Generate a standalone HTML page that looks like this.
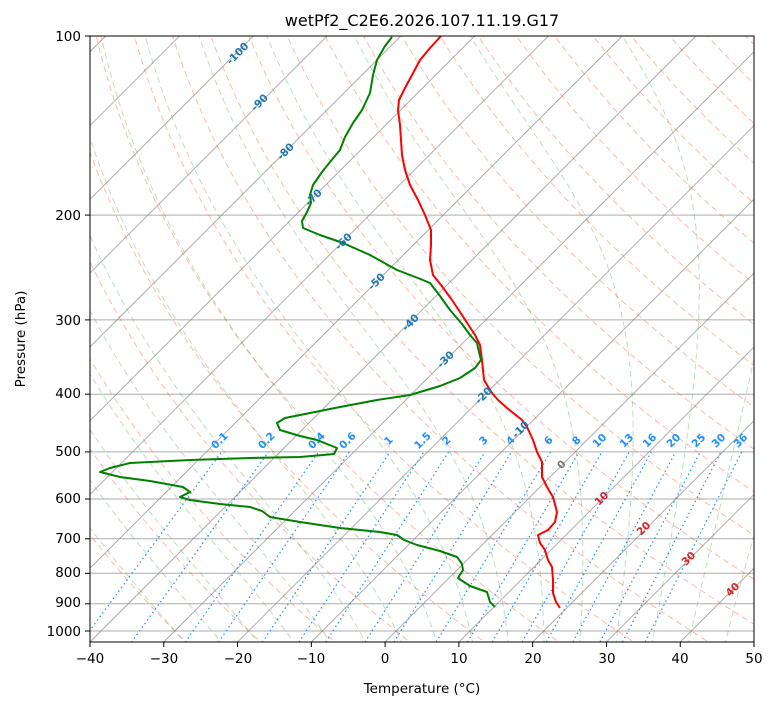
<!DOCTYPE html>
<html><head><meta charset="utf-8">
<style>
body{margin:0;background:#fff;}
svg{display:block;font-family:"DejaVu Sans","Liberation Sans",sans-serif;}
.tk{font-size:13.5px;fill:#000;}
.ml{font-size:10.5px;font-weight:bold;fill:#1e90ff;}
.il{font-size:10.5px;font-weight:bold;fill:#1f77b4;}
.rl{font-size:10.5px;font-weight:bold;fill:#d62728;}
</style></head><body>
<svg id="s" width="775" height="708" viewBox="0 0 775 708" xmlns="http://www.w3.org/2000/svg">
<defs><clipPath id="c"><rect x="90" y="36" width="664" height="606"/></clipPath></defs>
<rect width="775" height="708" fill="#fff"/>
<g id="bg" clip-path="url(#c)"></g>
<g clip-path="url(#c)" fill="none" stroke-width="2" stroke-linejoin="round">
<polyline stroke="#ff0000" points="441,36 430,48 420,60 412,75 405,88 399,100 398,110 400,125 401,140 402,155 405,170 410,185 418,200 425,215 431,230 431,245 430,260 433,275 441,285 452,300 462,315 475,335 480,345 482,360 484,380 492,393 498,400 507,408 522,420 527,427 533,440 537,452 542,462 542,477 547,487 553,497 557,512 555,522 548,530 538,535 540,543 545,550 548,560 552,567 553,580 553,593 556,602 560,608"/>
<polyline stroke="#008000" points="392,37 385,46 377,60 373,75 370,93 362,110 353,123 345,137 340,150 330,162 322,172 313,185 310,195 311,203 307,212 302,221 303,228 320,235 343,243 370,255 397,270 418,278 430,283 440,296 450,310 462,324 470,335 477,343 479,352 481,360 475,368 460,378 440,386 410,395 377,400 340,407 305,414 285,418 277,423 280,430 300,436 317,440 337,448 334,454 323,455 300,457 250,458 190,460 130,463 110,468 100,472 120,477 150,481 183,487 190,492 180,497 190,500 220,504 250,507 262,511 270,517 300,522 340,528 380,532 397,535 404,540 417,545 440,551 457,557 462,564 463,570 458,578 470,586 487,592 490,602 495,607"/>
</g>
<rect x="90" y="36" width="664" height="606" fill="none" stroke="#000" stroke-width="1"/>
<g id="tk"></g>
<text x="422" y="26" text-anchor="middle" style="font-size:16px">wetPf2_C2E6.2026.107.11.19.G17</text>
<text x="422" y="693" text-anchor="middle" class="tk">Temperature (°C)</text>
<text transform="translate(25,339) rotate(-90)" text-anchor="middle" class="tk">Pressure (hPa)</text>
<g class="tk" text-anchor="end">
<text x="81" y="41">100</text><text x="81" y="220">200</text><text x="81" y="325">300</text><text x="81" y="398">400</text><text x="81" y="456">500</text><text x="81" y="503">600</text><text x="81" y="543">700</text><text x="81" y="577">800</text><text x="81" y="607">900</text><text x="81" y="636">1000</text>
</g>
<g class="tk" text-anchor="middle">
<text x="90" y="663">−40</text><text x="164" y="663">−30</text><text x="238" y="663">−20</text><text x="311" y="663">−10</text><text x="385" y="663">0</text><text x="459" y="663">10</text><text x="533" y="663">20</text><text x="607" y="663">30</text><text x="680" y="663">40</text><text x="754" y="663">50</text>
</g>
<g class="ml" text-anchor="middle">
<text transform="translate(222,443) rotate(-45)">0.1</text><text transform="translate(269,443) rotate(-45)">0.2</text><text transform="translate(319,443) rotate(-45)">0.4</text><text transform="translate(350,443) rotate(-45)">0.6</text><text transform="translate(391,443) rotate(-45)">1</text><text transform="translate(425,443) rotate(-45)">1.5</text><text transform="translate(449,443) rotate(-45)">2</text><text transform="translate(486,443) rotate(-45)">3</text><text transform="translate(513,443) rotate(-45)">4</text><text transform="translate(551,443) rotate(-45)">6</text><text transform="translate(579,443) rotate(-45)">8</text><text transform="translate(602,443) rotate(-45)">10</text><text transform="translate(629,443) rotate(-45)">13</text><text transform="translate(652,443) rotate(-45)">16</text><text transform="translate(676,443) rotate(-45)">20</text><text transform="translate(701,443) rotate(-45)">25</text><text transform="translate(721,443) rotate(-45)">30</text><text transform="translate(743,443) rotate(-45)">36</text>
</g>
<g class="il" text-anchor="middle">
<text transform="translate(240,56) rotate(-45)">-100</text><text transform="translate(262,105) rotate(-45)">-90</text><text transform="translate(288,154) rotate(-45)">-80</text><text transform="translate(316,200) rotate(-45)">-70</text><text transform="translate(346,244) rotate(-45)">-60</text><text transform="translate(379,284) rotate(-45)">-50</text><text transform="translate(413,325) rotate(-45)">-40</text><text transform="translate(448,362) rotate(-45)">-30</text><text transform="translate(486,398) rotate(-45)">-20</text><text transform="translate(523,432) rotate(-45)">-10</text>
</g>
<text transform="translate(564,467) rotate(-45)" text-anchor="middle" style="font-size:10.5px;font-weight:bold;fill:#777">0</text>
<g class="rl" text-anchor="middle">
<text transform="translate(604,501) rotate(-45)">10</text><text transform="translate(646,531) rotate(-45)">20</text><text transform="translate(691,561) rotate(-45)">30</text><text transform="translate(735,592) rotate(-45)">40</text>
</g>
</svg>
<script>
(function(){
var NS="http://www.w3.org/2000/svg",bg=document.getElementById("bg"),tk=document.getElementById("tk");
function Y(p){return 36+258.4*Math.log(p/100);}
function X(T,p){return 90+(T+40)*7.378+(642-Y(p));}
function path(d,st,dash,w,g){var e=document.createElementNS(NS,"path");e.setAttribute("d",d);e.setAttribute("fill","none");e.setAttribute("stroke",st);e.setAttribute("stroke-width",w||1);if(dash)e.setAttribute("stroke-dasharray",dash);(g||bg).appendChild(e);}
var ps=[];for(var p=1060;p>=95;p-=5)ps.push(p);
for(var th=-30;th<=200;th+=10){var d="";ps.forEach(function(p,i){var T=(th+273.15)*Math.pow(p/1000,0.2857)-273.15;d+=(i?"L":"M")+X(T,p).toFixed(1)+","+Y(p).toFixed(1);});path(d,"rgba(255,100,60,0.45)","6,4",1);}
function es(T){return 6.112*Math.exp(17.67*T/(T+243.5));}
function step(T,p,dp){var Tk=T+273.15,rs=0.622*es(T)/(p-es(T));var L=2.501e6,Rd=287,cp=1005;var g=(Rd*Tk+L*rs)/(cp+L*L*rs*0.622/(Rd*Tk*Tk))/p;return T+g*dp;}
for(var t0=-30;t0<=50;t0+=5){var pp=1000,TT=t0;
 while(pp<1060){TT=step(TT,pp,5);pp+=5;}
 var d="M"+X(TT,pp).toFixed(1)+","+Y(pp).toFixed(1);
 var T=TT,p=pp;while(p>100){T=step(T,p,-5);p-=5;d+="L"+X(T,p).toFixed(1)+","+Y(p).toFixed(1);}
 path(d,"rgba(60,160,60,0.35)","6,4",1);}
[0.1,0.2,0.4,0.6,1,1.5,2,3,4,6,8,10,13,16,20,25,30,36].forEach(function(w){var d="";[1060,500].forEach(function(p,i){var e=w*p/(622+w),l=Math.log(e/6.112),T=243.5*l/(17.67-l);d+=(i?"L":"M")+X(T,p).toFixed(1)+","+Y(p).toFixed(1);});path(d,"#1e90ff","1.5,3",1.2);});
for(var T=-130;T<=50;T+=10){var x0=90+(T+40)*7.378;path("M"+x0+",642L"+(x0+606)+",36","rgba(120,120,120,0.6)",null,1);}
[100,200,300,400,500,600,700,800,900,1000].forEach(function(p){var y=Y(p).toFixed(1);path("M90,"+y+"L754,"+y,"rgba(120,120,120,0.6)",null,1);path("M85,"+y+"L90,"+y,"#000",null,1,tk);});
for(var T=-40;T<=50;T+=10){var x=90+(T+40)*7.378;path("M"+x+",642L"+x+",647","#000",null,1,tk);}
})();
</script>
</body></html>
